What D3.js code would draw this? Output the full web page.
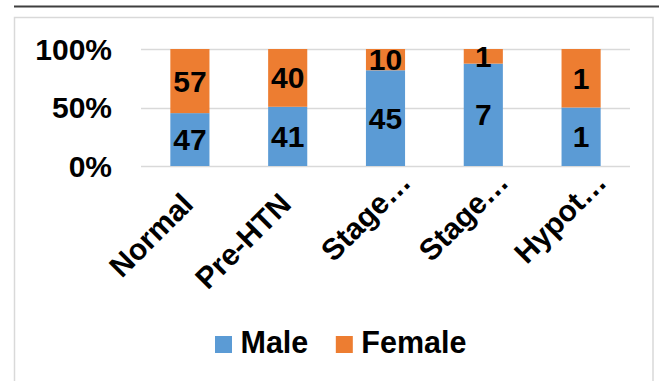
<!DOCTYPE html>
<html>
<head>
<meta charset="utf-8">
<script src="https://cdn.jsdelivr.net/npm/d3@7"></script>
<style>
  html, body { margin: 0; padding: 0; background: #fff; }
  svg { display: block; font-family: Arial, "Liberation Sans", sans-serif; font-weight: bold; }
</style>
</head>
<body>
<svg id="chart" width="659" height="381"></svg>
<script>
// Blood-pressure categories and counts by sex
const categories = ["Normal", "Pre-HTN", "Stage…", "Stage…", "Hypot…"];
const male   = [47, 41, 45, 7, 1];
const female = [57, 40, 10, 1, 1];
const seriesNames = ["Male", "Female"];
const seriesColors = ["#5B9BD5", "#ED7D31"];
const yTickValues = [0, 0.5, 1];
const yTickLabels = ["0%", "50%", "100%"];

const svg = d3.select("#chart");
const W = 659, H = 381;

// frame: dark rule on top and light chart border
svg.append("line")
  .attr("x1", 14).attr("x2", W).attr("y1", 6.5).attr("y2", 6.5)
  .attr("stroke", "#3f3f3f").attr("stroke-width", 2);
svg.append("rect")
  .attr("x", 14.5).attr("y", 17.5).attr("width", 638.5).attr("height", H)
  .attr("fill", "none").attr("stroke", "#d9d9d9").attr("stroke-width", 1.5);

const plot = { left: 141, right: 630, top: 49, bottom: 166 };

const idx = categories.map((_, i) => i);
const x = d3.scaleBand().domain(idx).range([plot.left, plot.right])
  .paddingInner(0.6).paddingOuter(0.3);
const y = d3.scaleLinear().domain([0, 1]).range([plot.bottom, plot.top]);

// gridlines
svg.append("g").selectAll("line").data(yTickValues).join("line")
  .attr("x1", plot.left).attr("x2", plot.right)
  .attr("y1", d => Math.round(y(d)) + 0.5).attr("y2", d => Math.round(y(d)) + 0.5)
  .attr("stroke", "#d9d9d9").attr("stroke-width", 1.5);

// y tick labels
svg.append("g").selectAll("text").data(yTickValues).join("text")
  .attr("x", 112).attr("y", d => y(d)).attr("dy", "0.35em")
  .attr("text-anchor", "end").attr("font-size", 30).attr("fill", "#000")
  .text((d, i) => yTickLabels[i]);

// stacked shares
const rows = idx.map(i => ({ i, Male: male[i], Female: female[i], total: male[i] + female[i] }));
const stack = d3.stack().keys(seriesNames)
  .value((d, k) => d[k] / d.total);
const layers = stack(rows);

const gLayers = svg.append("g").selectAll("g").data(layers).join("g")
  .attr("fill", (d, i) => seriesColors[i]);
gLayers.selectAll("rect").data(d => d).join("rect")
  .attr("x", d => x(d.data.i))
  .attr("width", x.bandwidth())
  .attr("y", d => y(d[1]))
  .attr("height", d => y(d[0]) - y(d[1]));

// value labels
layers.forEach(layer => {
  svg.append("g").selectAll("text").data(layer).join("text")
    .attr("x", d => x(d.data.i) + x.bandwidth() / 2)
    .attr("y", d => (y(d[0]) + y(d[1])) / 2)
    .attr("dy", "0.35em")
    .attr("text-anchor", "middle").attr("font-size", 30).attr("fill", "#000")
    .text(d => d.data[layer.key]);
});

// rotated category labels; shortened labels sit further along their baseline
svg.append("g").selectAll("text").data(idx).join("text")
  .attr("transform", i => {
    const cx = x(i) + x.bandwidth() / 2;
    const shift = categories[i].endsWith("…") ? 22 : 0;
    return `translate(${cx + 5 + shift},${plot.bottom + 40 - shift}) rotate(-45)`;
  })
  .attr("text-anchor", "end").attr("font-size", 30).attr("fill", "#000")
  .text(i => categories[i]);

// legend
const legend = svg.append("g").attr("transform", "translate(215,336)");
let lx = 0;
seriesNames.forEach((name, i) => {
  const g = legend.append("g").attr("transform", `translate(${lx},0)`);
  g.append("rect").attr("width", 17).attr("height", 17).attr("fill", seriesColors[i]);
  const t = g.append("text").attr("x", 25.5).attr("y", 17)
    .attr("font-size", 30.5).attr("fill", "#000").text(name);
  lx += 25.5 + t.node().getComputedTextLength() + 27.5;
});
</script>
</body>
</html>
